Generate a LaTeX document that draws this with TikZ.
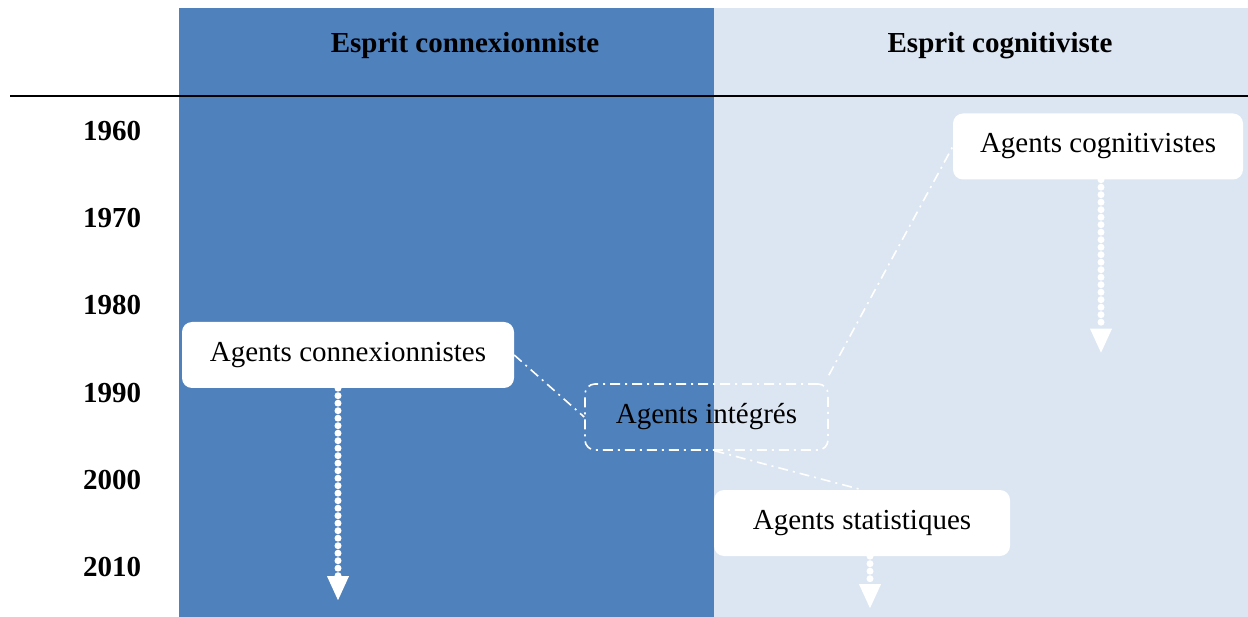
\documentclass[tikz,border=0pt]{standalone}
\usepackage{fontspec}
\setmainfont{Liberation Serif}
\usetikzlibrary{arrows.meta}

\definecolor{connexblue}{HTML}{4F81BD}
\definecolor{cognitblue}{HTML}{DCE6F2}

\tikzset{
  agentbox/.style={fill=white, rounded corners=10pt, minimum height=66pt, inner sep=0pt},
  integbox/.style={draw=white, line width=1.6pt, rounded corners=10pt,
    dash pattern=on 10pt off 5pt on 2pt off 5pt, minimum height=66pt, minimum width=243pt},
  link/.style={white, line width=1.6pt, dash pattern=on 10pt off 5pt on 2pt off 5pt},
  timeline/.style={white, line width=7pt, line cap=round, dash pattern=on 0pt off 7.5pt,
    -{Triangle[width=22pt,length=24pt,line width=0pt,round=false]}},
  yearlabel/.style={font=\bfseries\fontsize{29}{30}\selectfont},
  agentlabel/.style={font=\fontsize{29}{30}\selectfont}
}

\begin{document}
\begin{tikzpicture}[x=1pt, y=-1pt]

      % cadre
      \useasboundingbox (0,0) rectangle (1248,617);

      % colonnes
      \fill[connexblue] (179,8) rectangle (714,617);
      \fill[cognitblue] (714,8) rectangle (1248,617);

      % titres
      \node[yearlabel] (hconx) at (465,46) {Esprit connexionniste};
      \node[yearlabel] (hcogn) at (1000,46) {Esprit cognitiviste};
      \draw[line width=2pt] (10,96) -- (1248,96);

      % annees
      \foreach \an [count=\k from 0] in {1960,1970,1980,1990,2000,2010} {
          \node[yearlabel] (y\an) at (112, {131 + 87.2*\k}) {\an};
        }

      % agents
      \node[agentbox, agentlabel, minimum width=332pt] (conx) at (348,355) {Agents connexionnistes};
      \node[agentbox, agentlabel, minimum width=290pt] (cogn) at (1098,146.5) {Agents cognitivistes};
      \node[agentbox, agentlabel, minimum width=296pt] (stat) at (862,523) {Agents statistiques};
      \node[integbox, agentlabel] (integ) at (706.5,417) {Agents intégrés};

      % liens
      \draw[link] (conx.east) -- (integ.west);
      \draw[link] ([yshift=8pt]integ.north east) -- (cogn.west);
      \draw[link] ([xshift=8pt]integ.south) -- (stat.north);

      % fleches
      \draw[timeline] ([xshift=-10pt]conx.south) -- ++(0,212) coordinate (econx);
      \draw[timeline] ([xshift=3pt]cogn.south) -- ++(0,173) coordinate (ecogn);
      \draw[timeline] ([xshift=8pt]stat.south) -- ++(0,52) coordinate (estat);
    \end{tikzpicture}
\end{document}
